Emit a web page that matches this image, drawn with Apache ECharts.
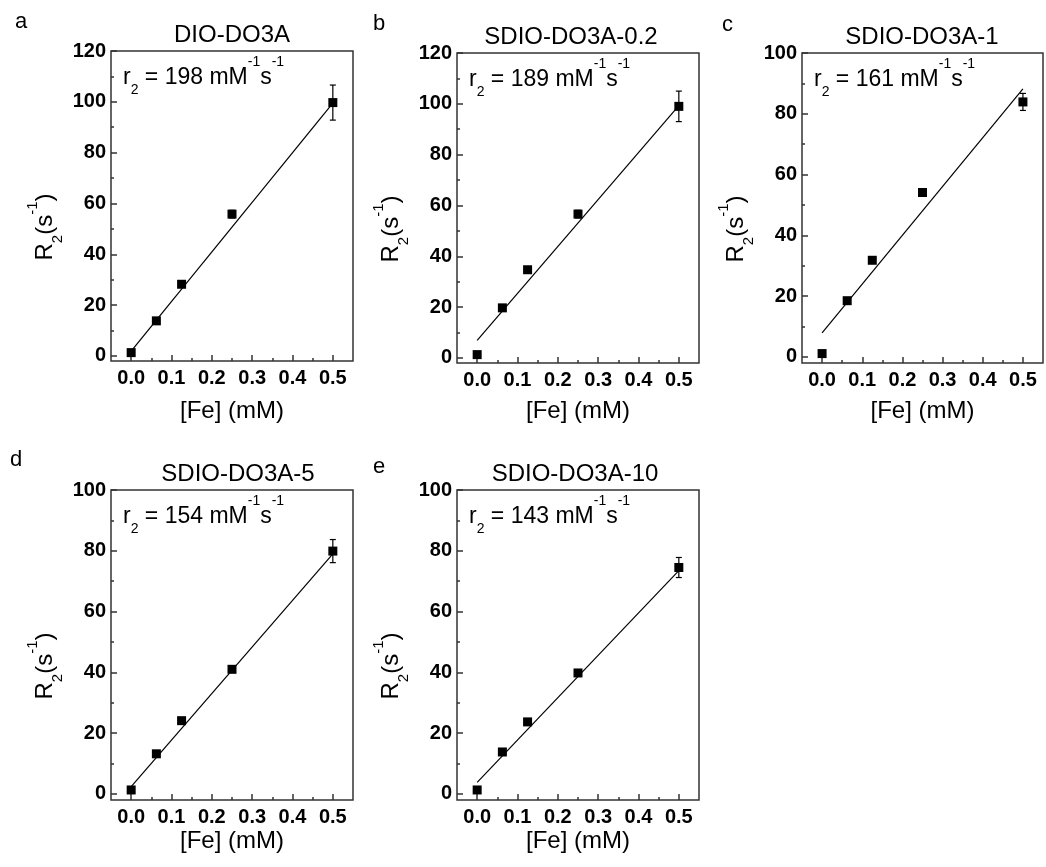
<!DOCTYPE html>
<html><head><meta charset="utf-8">
<script src="https://cdn.jsdelivr.net/npm/echarts@6/dist/echarts.min.js"></script>
<style>html,body{margin:0;padding:0;background:#fff}#c{width:1046px;height:867px}</style>
</head><body><div id="c"></div><script>
// ---- data ----
const concentrations = [0, 0.0625, 0.125, 0.25, 0.5];          // [Fe] (mM)
const panelNames   = ['DIO-DO3A', 'SDIO-DO3A-0.2', 'SDIO-DO3A-1', 'SDIO-DO3A-5', 'SDIO-DO3A-10'];
const panelLetters = ['a', 'b', 'c', 'd', 'e'];
const r2Values     = ['198', '189', '161', '154', '143'];

const R2_DIO   = [1.3, 13.8, 28.2, 55.8, 99.7];
const R2_S02   = [1.3, 19.7, 34.7, 56.6, 99.0];
const R2_S1    = [1.1, 18.5, 31.8, 54.1, 83.9];
const R2_S5    = [1.3, 13.2, 24.1, 41.0, 79.9];
const R2_S10   = [1.3, 13.8, 23.7, 39.8, 74.5];

const ERR_DIO  = [0.4, 0.4, 0.6, 1.5, 6.9];
const ERR_S02  = [0.4, 0.5, 0.6, 1.5, 6.0];
const ERR_S1   = [0.3, 0.5, 0.5, 0.8, 2.8];
const ERR_S5   = [0.3, 0.4, 0.6, 0.5, 3.8];
const ERR_S10  = [0.3, 0.4, 0.6, 0.5, 3.3];

const fitX     = [0, 0.5];
const FIT_DIO  = [1.9, 99.5];
const FIT_S02  = [6.9, 99.3];
const FIT_S1   = [7.9, 88.2];
const FIT_S5   = [2.4, 79.0];
const FIT_S10  = [3.8, 73.5];

const xTicks      = [0, 0.1, 0.2, 0.3, 0.4, 0.5];
const xMinorTicks = [0.05, 0.15, 0.25, 0.35, 0.45];
const yTicks120   = [0, 20, 40, 60, 80, 100, 120];
const yMinor120   = [10, 30, 50, 70, 90, 110];
const yTicks100   = [0, 20, 40, 60, 80, 100];
const yMinor100   = [10, 30, 50, 70, 90];
const yMaxes      = [120, 120, 100, 100, 100];

const seriesValues = [R2_DIO, R2_S02, R2_S1, R2_S5, R2_S10];
const seriesErrors = [ERR_DIO, ERR_S02, ERR_S1, ERR_S5, ERR_S10];
const seriesFits   = [FIT_DIO, FIT_S02, FIT_S1, FIT_S5, FIT_S10];

// ---- layout (pixels) ----
const FONT = 'Liberation Sans, Arial, sans-serif';
const grids = [
  {left: 111, top: 51, width: 242, height: 310},
  {left: 457, top: 53, width: 242, height: 310},
  {left: 802, top: 53, width: 241, height: 310},
  {left: 111, top: 490, width: 242, height: 310},
  {left: 457, top: 490, width: 242, height: 310}
];
const titleCenters = [232, 571, 922, 238, 575];
const xNameY = [411, 411, 411, 841, 841];
const letterPos = [[15, 22], [373, 24], [722, 25], [10, 460], [373, 467]];
const FRAME = '#333';

function richSpec(M, S, supOff, subOff) {
  const Pm = supOff + S / 2 - M / 2;
  const Ps = subOff + Pm + M / 2 - S / 2;
  const base = {fontFamily: FONT, fill: '#000', color: '#000', verticalAlign: 'top'};
  return {
    rich: {
      m:   Object.assign({}, base, {fontSize: M, padding: [Pm, 0, 0, 0]}),
      sup: Object.assign({}, base, {fontSize: S, padding: [0, 0, 0, 0]}),
      sub: Object.assign({}, base, {fontSize: S, padding: [Ps, 0, 0, 0]})
    },
    mid: Pm + M / 2
  };
}

const xAxes = [], yAxes = [], series = [], graphics = [];
const r2Rich = richSpec(23, 14, 15, 12.8);
const yRich = richSpec(24, 15, 12, 12.5);

grids.forEach((g, i) => {
  const ymax = yMaxes[i];
  const yt = ymax === 120 ? yTicks120 : yTicks100;
  const ym = ymax === 120 ? yMinor120 : yMinor100;
  const tickStyle = {color: FRAME, width: 1.5};
  const noLine = {show: false, onZero: false};
  xAxes.push({
    gridIndex: i, type: 'value', min: -0.05, max: 0.55, position: 'bottom',
    axisLine: noLine, splitLine: {show: false},
    axisTick: {inside: true, length: 6, customValues: xTicks, lineStyle: tickStyle},
    axisLabel: {customValues: xTicks, formatter: v => v.toFixed(1), fontSize: 20, fontWeight: 'bold',
      color: '#000', fontFamily: FONT, margin: 7}
  });
  xAxes.push({
    gridIndex: i, type: 'value', min: -0.05, max: 0.55, position: 'bottom',
    axisLine: noLine, splitLine: {show: false},
    axisTick: {inside: true, length: 3, customValues: xMinorTicks, lineStyle: tickStyle},
    axisLabel: {show: false}
  });
  yAxes.push({
    gridIndex: i, type: 'value', min: -2, max: ymax, position: 'left',
    axisLine: noLine, splitLine: {show: false},
    axisTick: {inside: true, length: 6, customValues: yt, lineStyle: tickStyle},
    axisLabel: {customValues: yt, fontSize: 20, fontWeight: 'bold', color: '#000', fontFamily: FONT, margin: 5}
  });
  yAxes.push({
    gridIndex: i, type: 'value', min: -2, max: ymax, position: 'left',
    axisLine: noLine, splitLine: {show: false},
    axisTick: {inside: true, length: 3, customValues: ym, lineStyle: tickStyle},
    axisLabel: {show: false}
  });

  const xi = 2 * i, yi = 2 * i;
  series.push({
    type: 'line', xAxisIndex: xi, yAxisIndex: yi, silent: true, symbol: 'none',
    data: fitX.map((x, k) => [x, seriesFits[i][k]]),
    lineStyle: {color: '#000', width: 1.2}, z: 2
  });
  series.push({
    type: 'custom', xAxisIndex: xi, yAxisIndex: yi, silent: true, z: 3,
    data: concentrations.map((x, k) => [x, seriesValues[i][k], seriesErrors[i][k]]),
    renderItem: function (params, api) {
      const x = api.value(0), y = api.value(1), e = api.value(2);
      const top = api.coord([x, y + e]);
      const bot = api.coord([x, y - e]);
      const cw = 3;
      const st = {stroke: '#000', lineWidth: 1.2};
      return {type: 'group', children: [
        {type: 'line', shape: {x1: top[0], y1: top[1], x2: bot[0], y2: bot[1]}, style: st},
        {type: 'line', shape: {x1: top[0] - cw, y1: top[1], x2: top[0] + cw, y2: top[1]}, style: st},
        {type: 'line', shape: {x1: bot[0] - cw, y1: bot[1], x2: bot[0] + cw, y2: bot[1]}, style: st}
      ]};
    }
  });
  series.push({
    type: 'scatter', xAxisIndex: xi, yAxisIndex: yi, silent: true, z: 4,
    symbol: 'rect', symbolSize: 9, itemStyle: {color: '#000', opacity: 1},
    data: concentrations.map((x, k) => [x, seriesValues[i][k]])
  });

  // texts
  graphics.push({
    type: 'text', x: titleCenters[i], y: g.top - 16, z: 10,
    style: {text: panelNames[i], font: '24px ' + FONT, fill: '#000',
      align: 'center', textAlign: 'center', verticalAlign: 'middle', textVerticalAlign: 'middle'}
  });
  graphics.push({
    type: 'text', x: letterPos[i][0], y: letterPos[i][1], z: 10,
    style: {text: panelLetters[i], font: '22px ' + FONT, fill: '#000',
      align: 'left', textAlign: 'left', verticalAlign: 'middle', textVerticalAlign: 'middle'}
  });
  graphics.push({
    type: 'text', x: g.left + g.width / 2, y: xNameY[i], z: 10,
    style: {text: '[Fe] (mM)', font: '24px ' + FONT, fill: '#000',
      align: 'center', textAlign: 'center', verticalAlign: 'middle', textVerticalAlign: 'middle'}
  });
  graphics.push({
    type: 'text', x: g.left + 12, y: g.top + 26.5 - r2Rich.mid, z: 10,
    style: {text: '{m|r}{sub|2}{m| = ' + r2Values[i] + ' mM}{sup|-1}{m|s}{sup|-1}', rich: r2Rich.rich,
      font: '23px ' + FONT, fill: '#000',
      align: 'left', textAlign: 'left', verticalAlign: 'top', textVerticalAlign: 'top'}
  });
  graphics.push({
    type: 'text', x: g.left - 66 - yRich.mid, y: g.top + g.height / 2 + 21, rotation: Math.PI / 2, z: 10,
    style: {text: '{m|R}{sub|2}{m|(s}{sup|-1}{m|)}', rich: yRich.rich,
      font: '24px ' + FONT, fill: '#000',
      align: 'center', textAlign: 'center', verticalAlign: 'top', textVerticalAlign: 'top'}
  });
});

const chart = echarts.init(document.getElementById('c'), null, {renderer: 'canvas'});
chart.setOption({
  animation: false,
  backgroundColor: '#fff',
  grid: grids.map(g => Object.assign({}, g, {show: true, borderColor: FRAME, borderWidth: 1.5, backgroundColor: 'transparent', containLabel: false})),
  xAxis: xAxes,
  yAxis: yAxes,
  series: series,
  graphic: {elements: graphics}
});
</script></body></html>
